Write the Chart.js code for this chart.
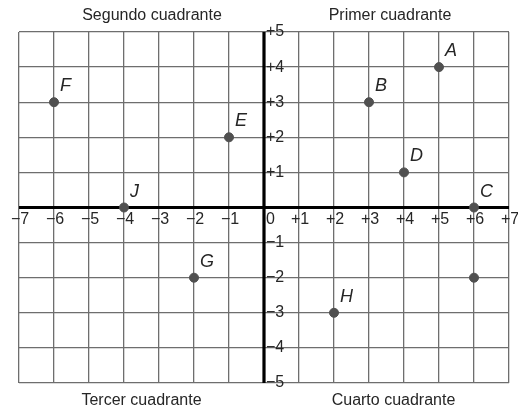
<!DOCTYPE html>
<html>
<head>
<meta charset="utf-8">
<style>
  html, body { margin: 0; padding: 0; background: #fff; }
  #wrap { width: 518px; height: 409px; }
</style>
<script src="https://cdn.jsdelivr.net/npm/chart.js@4/dist/chart.umd.min.js"></script>
</head>
<body>
<div id="wrap"><canvas id="c" width="518" height="409"></canvas></div>
<script>
// ---- data ----
const pointNames = ['A', 'B', 'C', 'D', 'E', 'F', 'G', 'H', 'J', ''];
const pointX = [5, 3, 6, 4, -1, -6, -2, 2, -4, 6];
const pointY = [4, 3, 0, 1, 2, 3, -2, -3, 0, -2];
const xTickValues = [-7, -6, -5, -4, -3, -2, -1, 0, 1, 2, 3, 4, 5, 6, 7];
const xTickLabels = ['\u22127', '\u22126', '\u22125', '\u22124', '\u22123', '\u22122', '\u22121', '0', '+1', '+2', '+3', '+4', '+5', '+6', '+7'];
const yTickValues = [5, 4, 3, 2, 1, -1, -2, -3, -4, -5];
const yTickLabels = ['+5', '+4', '+3', '+2', '+1', '\u22121', '\u22122', '\u22123', '\u22124', '\u22125'];
const quadrantNames = ['Segundo cuadrante', 'Primer cuadrante', 'Tercer cuadrante', 'Cuarto cuadrante'];

const FONT = '"Liberation Sans", Arial, sans-serif';
const TEXT = '#262626';

const axesPlugin = {
  id: 'axesPlugin',
  beforeDatasetsDraw(chart) {
    const { ctx, scales: { x, y } } = chart;
    const x0 = x.getPixelForValue(0), y0 = y.getPixelForValue(0);
    ctx.save();
    ctx.strokeStyle = '#000';
    ctx.lineWidth = 3.2;
    ctx.beginPath();
    ctx.moveTo(x.getPixelForValue(-7), y0);
    ctx.lineTo(x.getPixelForValue(7), y0);
    ctx.moveTo(x0, y.getPixelForValue(5));
    ctx.lineTo(x0, y.getPixelForValue(-5));
    ctx.stroke();
    ctx.restore();
  },
  afterDatasetsDraw(chart) {
    const { ctx, scales: { x, y }, chartArea } = chart;
    const x0 = x.getPixelForValue(0), y0 = y.getPixelForValue(0);
    ctx.save();
    ctx.fillStyle = TEXT;
    ctx.font = '16px ' + FONT;
    ctx.textBaseline = 'middle';
    // x tick labels
    xTickValues.forEach((v, i) => {
      const px = x.getPixelForValue(v);
      if (v === 0) {
        ctx.textAlign = 'left';
        ctx.fillText(xTickLabels[i], px + 2, y0 + 12);
      } else {
        ctx.textAlign = 'center';
        ctx.fillText(xTickLabels[i], px + 1, y0 + 12);
      }
    });
    // y tick labels
    ctx.textAlign = 'left';
    yTickValues.forEach((v, i) => {
      ctx.fillText(yTickLabels[i], x0 + 2, y.getPixelForValue(v));
    });
    // quadrant names
    ctx.textAlign = 'center';
    const xl = x.getPixelForValue(-3.2), xr = x.getPixelForValue(3.6);
    const xl2 = x.getPixelForValue(-3.5), xr2 = x.getPixelForValue(3.7);
    ctx.fillText(quadrantNames[0], xl, 16);
    ctx.fillText(quadrantNames[1], xr, 16);
    ctx.fillText(quadrantNames[2], xl2, chartArea.bottom + 18);
    ctx.fillText(quadrantNames[3], xr2, chartArea.bottom + 18);
    // point names
    ctx.font = 'italic 18px ' + FONT;
    ctx.textAlign = 'left';
    const meta = chart.getDatasetMeta(0);
    meta.data.forEach((el, i) => {
      if (!pointNames[i]) return;
      ctx.fillText(pointNames[i], el.x + 6, el.y - 16);
    });
    ctx.restore();
  }
};

new Chart(document.getElementById('c'), {
  type: 'scatter',
  data: {
    datasets: [{
      data: pointX.map((v, i) => ({ x: v, y: pointY[i] })),
      backgroundColor: '#505050',
      borderColor: '#505050',
      pointRadius: 4.5,
      pointHoverRadius: 4.5
    }]
  },
  options: {
    responsive: false,
    animation: false,
    events: [],
    layout: { padding: { left: 19, right: 9, top: 32, bottom: 26 } },
    plugins: { legend: { display: false }, tooltip: { enabled: false } },
    scales: {
      x: {
        type: 'linear', min: -7, max: 7,
        ticks: { stepSize: 1, display: false },
        grid: { color: '#6e6e6e', lineWidth: 1.3, drawTicks: false },
        border: { display: false }
      },
      y: {
        type: 'linear', min: -5, max: 5,
        ticks: { stepSize: 1, display: false },
        grid: { color: '#6e6e6e', lineWidth: 1.3, drawTicks: false },
        border: { display: false }
      }
    }
  },
  plugins: [axesPlugin]
});
</script>
</body>
</html>
